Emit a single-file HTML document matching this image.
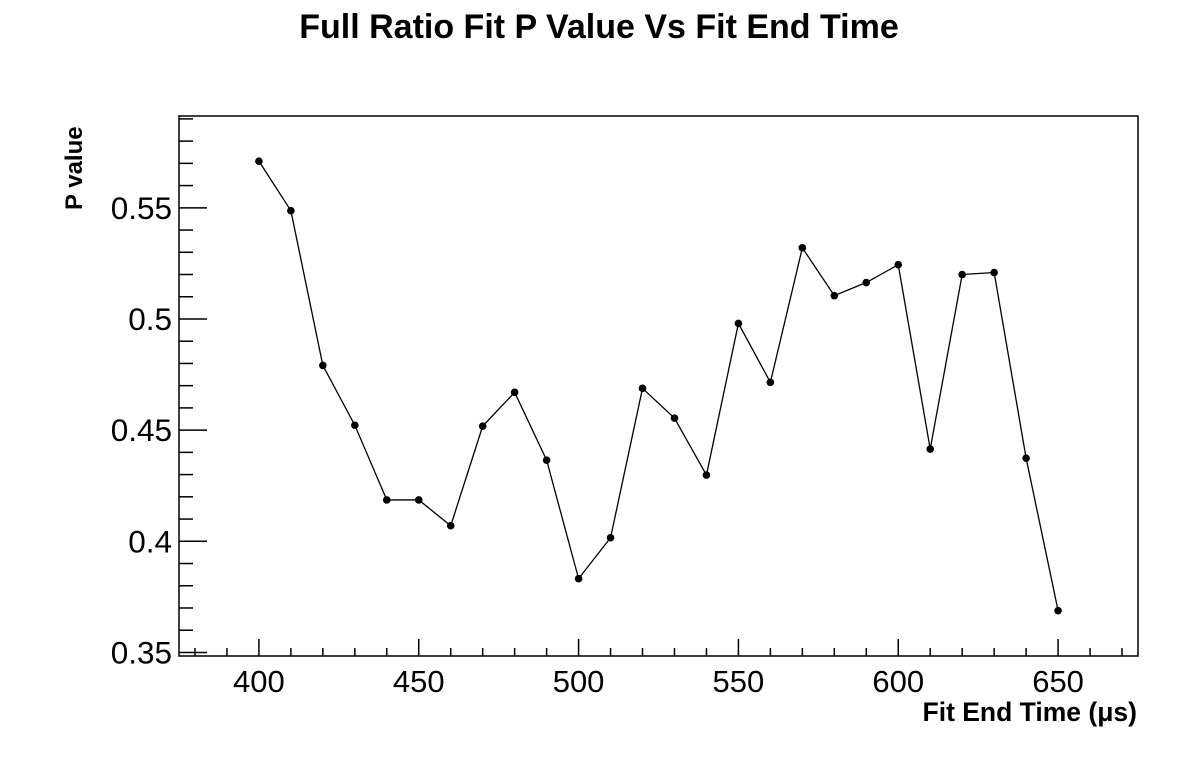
<!DOCTYPE html>
<html><head><meta charset="utf-8"><style>
html,body{margin:0;padding:0;background:#fff;}
svg{display:block;font-family:"Liberation Sans",Arial,sans-serif;}
</style></head><body>
<svg id="chart" width="1198" height="774">
<text x="599" y="38" text-anchor="middle" font-size="34" font-weight="bold">Full Ratio Fit P Value Vs Fit End Time</text>
<rect x="179" y="116" width="959" height="540" fill="none" stroke="#000" stroke-width="1.5"/>
<g id="axes"></g>
<g id="series"></g>
<text x="1137" y="721" text-anchor="end" font-size="26.5" font-weight="bold">Fit End Time (μs)</text>
<text transform="translate(82,210) rotate(-90)" font-size="24" font-weight="bold">P value</text>
</svg>
<script>
const xs = [400,410,420,430,440,450,460,470,480,490,500,510,520,530,540,550,560,570,580,590,600,610,620,630,640,650];
const ys = [0.571,0.5487,0.4791,0.4522,0.4186,0.4186,0.407,0.4518,0.467,0.4365,0.3832,0.4016,0.4688,0.4554,0.4298,0.498,0.4715,0.532,0.5105,0.5164,0.5244,0.4415,0.52,0.5209,0.4374,0.3688];
const xTicks = [400,450,500,550,600,650];
const yTicks = [0.35,0.4,0.45,0.5,0.55];
const yTickLabels = ["0.35","0.4","0.45","0.5","0.55"];
const X0=179,X1=1138,Y0=656,Y1=116,xmin=375,xmax=675,ymin=0.3484,ymax=0.5913;
const sx=v=>X0+(v-xmin)/(xmax-xmin)*(X1-X0);
const sy=v=>Y0-(v-ymin)/(ymax-ymin)*(Y0-Y1);
const NS="http://www.w3.org/2000/svg";
const axes=document.getElementById('axes'),ser=document.getElementById('series');
function mk(tag,at,p){const e=document.createElementNS(NS,tag);for(const k in at)e.setAttribute(k,at[k]);p.appendChild(e);return e;}
for(let v=380;v<=670;v+=10){
  const major=v%50===0;
  const t=mk('line',{x1:sx(v),x2:sx(v),y1:Y0,y2:Y0-(major?17:8),stroke:'#000','stroke-width':1.5},axes);
  
  
}
xTicks.forEach(v=>{
  const t=mk('text',{x:sx(v),y:692,'text-anchor':'middle','font-size':31},axes);t.textContent=v;
  
  
});
for(let i=35;i<=59;i++){
  const v=i/100,major=i%5===0;
  const t=mk('line',{x1:X0,x2:X0+(major?28:14),y1:sy(v),y2:sy(v),stroke:'#000','stroke-width':1.5},axes);
  
  
}
yTicks.forEach((v,i)=>{
  const t=mk('text',{x:172,y:sy(v)+11,'text-anchor':'end','font-size':31.5},axes);t.textContent=yTickLabels[i];
  
  
});
const line=mk('polyline',{points:xs.map((x,i)=>sx(x)+','+sy(ys[i])).join(' '),fill:'none',stroke:'#000','stroke-width':1.3},ser);


xs.forEach((x,i)=>{
  const c=mk('circle',{cx:sx(x),cy:sy(ys[i]),r:3.8,fill:'#000'},ser);
  
  
});
</script>
</body></html>
